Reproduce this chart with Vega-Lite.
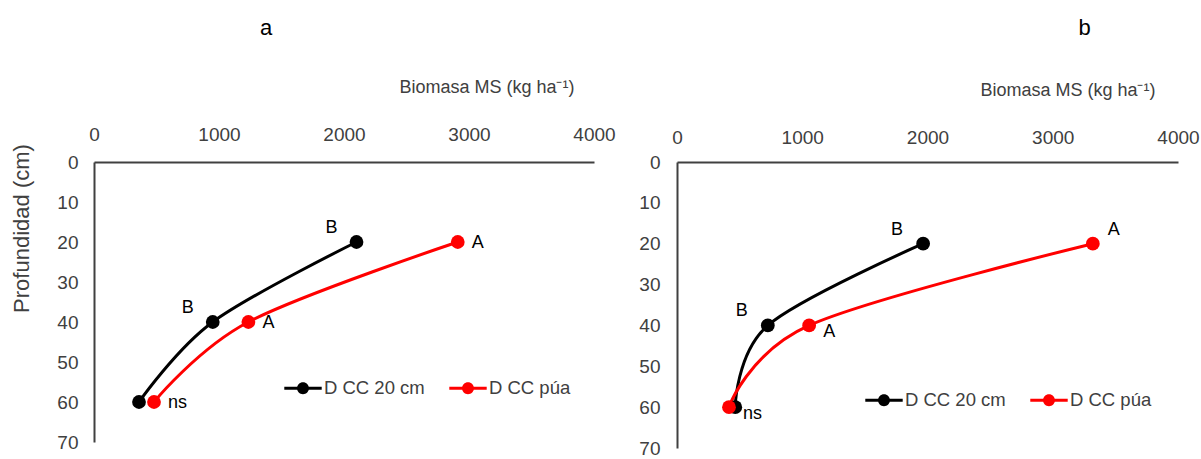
{
  "$schema": "https://vega.github.io/schema/vega-lite/v6.json",
  "padding": {"left": 10, "top": 17, "right": 5, "bottom": 0},
  "datasets": {
    "a": [
      {"serie": "D CC 20 cm", "biomasa": 2100, "profundidad": 20, "etiqueta": "B"},
      {"serie": "D CC 20 cm", "biomasa": 950, "profundidad": 40, "etiqueta": "B"},
      {"serie": "D CC 20 cm", "biomasa": 360, "profundidad": 60, "etiqueta": ""},
      {"serie": "D CC púa", "biomasa": 2910, "profundidad": 20, "etiqueta": "A"},
      {"serie": "D CC púa", "biomasa": 1235, "profundidad": 40, "etiqueta": "A"},
      {"serie": "D CC púa", "biomasa": 480, "profundidad": 60, "etiqueta": "ns"}
    ],
    "b": [
      {"serie": "D CC 20 cm", "biomasa": 1965, "profundidad": 20, "etiqueta": "B"},
      {"serie": "D CC 20 cm", "biomasa": 725, "profundidad": 40, "etiqueta": "B"},
      {"serie": "D CC 20 cm", "biomasa": 465, "profundidad": 60, "etiqueta": ""},
      {"serie": "D CC púa", "biomasa": 3320, "profundidad": 20, "etiqueta": "A"},
      {"serie": "D CC púa", "biomasa": 1055, "profundidad": 40, "etiqueta": "A"},
      {"serie": "D CC púa", "biomasa": 415, "profundidad": 60, "etiqueta": "ns"}
    ]
  },
  "spacing": 22,
  "hconcat": [
    {
      "title": {"text": "a", "fontSize": 22, "fontWeight": "normal", "anchor": "middle", "frame": "group", "dx": -78, "offset": 38, "color": "#000000"},
      "width": 500,
      "height": 280,
      "data": {"name": "a"},
      "encoding": {
        "x": {"field": "biomasa", "type": "quantitative", "scale": {"domain": [0, 4000]},
          "axis": {"orient": "top", "title": "Biomasa MS (kg ha⁻¹)", "format": "d", "values": [0, 1000, 2000, 3000, 4000], "titleX": 480, "titleY": -70, "titleAlign": "right", "titleBaseline": "alphabetic", "labelPadding": 18}},
        "y": {"field": "profundidad", "type": "quantitative", "scale": {"domain": [0, 70], "reverse": true},
          "axis": {"orient": "left", "title": "Profundidad  (cm)", "values": [0, 10, 20, 30, 40, 50, 60, 70], "titleX": -73, "titleY": 66, "titleAngle": -90, "titleAlign": "center", "titleBaseline": "middle"}}
      },
      "layer": [
        {"transform": [{"filter": "datum.serie === 'D CC 20 cm'"}],
          "mark": {"type": "line", "interpolate": "cardinal", "tension": 0, "strokeWidth": 3, "color": "#000000"},
          "encoding": {"order": {"field": "profundidad", "type": "quantitative"}}},
        {"transform": [{"filter": "datum.serie === 'D CC púa'"}],
          "mark": {"type": "line", "interpolate": "cardinal", "tension": 0, "strokeWidth": 3, "color": "#ff0000"},
          "encoding": {"order": {"field": "profundidad", "type": "quantitative"}}},
        {"mark": {"type": "point", "filled": true, "size": 190, "opacity": 1},
          "encoding": {
            "color": {"field": "serie", "type": "nominal", "scale": {"domain": ["D CC 20 cm", "D CC púa"], "range": ["#000000", "#ff0000"]},
              "legend": {"orient": "none", "legendX": 190, "legendY": 207, "direction": "horizontal", "title": null}}
          }},
        {"transform": [{"filter": "datum.serie === 'D CC 20 cm'"}],
          "mark": {"type": "text", "align": "center", "baseline": "middle", "dx": -25, "dy": -14, "fontSize": 18, "color": "#000000"},
          "encoding": {"text": {"field": "etiqueta"}}},
        {"transform": [{"filter": "datum.serie === 'D CC púa'"}],
          "mark": {"type": "text", "align": "left", "baseline": "middle", "dx": 14, "dy": 1, "fontSize": 18, "color": "#000000"},
          "encoding": {"text": {"field": "etiqueta"}}}
      ]
    },
    {
      "title": {"text": "b", "fontSize": 22, "fontWeight": "normal", "anchor": "middle", "frame": "group", "dx": 157, "offset": 41, "color": "#000000"},
      "width": 501,
      "height": 286,
      "data": {"name": "b"},
      "encoding": {
        "x": {"field": "biomasa", "type": "quantitative", "scale": {"domain": [0, 4000]},
          "axis": {"orient": "top", "title": "Biomasa MS (kg ha⁻¹)", "format": "d", "values": [0, 1000, 2000, 3000, 4000], "titleX": 478, "titleY": -67, "titleAlign": "right", "titleBaseline": "alphabetic", "labelPadding": 15}},
        "y": {"field": "profundidad", "type": "quantitative", "scale": {"domain": [0, 70], "reverse": true},
          "axis": {"orient": "left", "title": null, "values": [0, 10, 20, 30, 40, 50, 60, 70], "labelPadding": 17}}
      },
      "layer": [
        {"transform": [{"filter": "datum.serie === 'D CC 20 cm'"}],
          "mark": {"type": "line", "interpolate": "cardinal", "tension": 0, "strokeWidth": 3, "color": "#000000"},
          "encoding": {"order": {"field": "profundidad", "type": "quantitative"}}},
        {"transform": [{"filter": "datum.serie === 'D CC púa'"}],
          "mark": {"type": "line", "interpolate": "cardinal", "tension": 0, "strokeWidth": 3, "color": "#ff0000"},
          "encoding": {"order": {"field": "profundidad", "type": "quantitative"}}},
        {"mark": {"type": "point", "filled": true, "size": 190, "opacity": 1},
          "encoding": {
            "color": {"field": "serie", "type": "nominal", "scale": {"domain": ["D CC 20 cm", "D CC púa"], "range": ["#000000", "#ff0000"]},
              "legend": {"orient": "none", "legendX": 188, "legendY": 219, "direction": "horizontal", "title": null}}
          }},
        {"transform": [{"filter": "datum.serie === 'D CC 20 cm'"}],
          "mark": {"type": "text", "align": "center", "baseline": "middle", "dx": -26, "dy": -14, "fontSize": 18, "color": "#000000"},
          "encoding": {"text": {"field": "etiqueta"}}},
        {"transform": [{"filter": "datum.serie === 'D CC púa' && datum.profundidad === 20"}],
          "mark": {"type": "text", "align": "left", "baseline": "middle", "dx": 15, "dy": -14, "fontSize": 18, "color": "#000000"},
          "encoding": {"text": {"field": "etiqueta"}}},
        {"transform": [{"filter": "datum.serie === 'D CC púa' && datum.profundidad !== 20"}],
          "mark": {"type": "text", "align": "left", "baseline": "middle", "dx": 14, "dy": 7, "fontSize": 18, "color": "#000000"},
          "encoding": {"text": {"field": "etiqueta"}}}
      ]
    }
  ],
  "resolve": {"scale": {"color": "independent"}, "legend": {"color": "independent"}},
  "config": {
    "view": {"stroke": null},
    "font": "Liberation Sans",
    "axis": {
      "ticks": false,
      "grid": false,
      "domainColor": "#404040",
      "domainWidth": 2,
      "labelFontSize": 19,
      "labelColor": "#404040",
      "labelPadding": 16,
      "labelFlush": false,
      "labelOverlap": false,
      "titleFontSize": 18,
      "titleFontWeight": "normal",
      "titleColor": "#404040"
    },
    "axisY": {"titleFontSize": 22},
    "legend": {
      "symbolType": "M-1,-0.08H1V0.08H-1Z M-0.32,0A0.32,0.32,0,1,1,0.32,0A0.32,0.32,0,1,1,-0.32,0Z",
      "symbolSize": 1400,
      "symbolStrokeWidth": 0,
      "labelFontSize": 18.5,
      "labelColor": "#404040",
      "labelOffset": 2,
      "columnPadding": 24,
      "padding": 0,
      "labelLimit": 300
    }
  }
}
